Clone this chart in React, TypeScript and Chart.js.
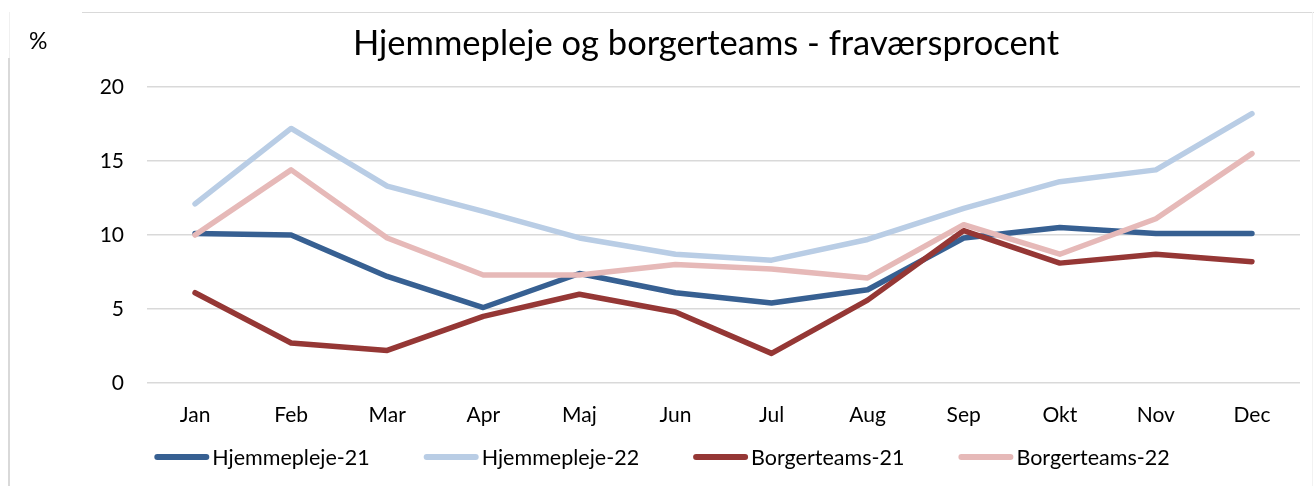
import React, { useEffect, useRef } from "react";
import { Chart, registerables } from "chart.js";

Chart.register(...registerables);

const categories = ["Jan", "Feb", "Mar", "Apr", "Maj", "Jun", "Jul", "Aug", "Sep", "Okt", "Nov", "Dec"];
const hjemmepleje21 = [10.1, 10.0, 7.2, 5.1, 7.4, 6.1, 5.4, 6.3, 9.8, 10.5, 10.1, 10.1];
const hjemmepleje22 = [12.1, 17.2, 13.3, 11.6, 9.8, 8.7, 8.3, 9.7, 11.8, 13.6, 14.4, 18.2];
const borgerteams21 = [6.1, 2.7, 2.2, 4.5, 6.0, 4.8, 2.0, 5.6, 10.3, 8.1, 8.7, 8.2];
const borgerteams22 = [10.0, 14.4, 9.8, 7.3, 7.3, 8.0, 7.7, 7.1, 10.7, 8.7, 11.1, 15.5];
const seriesNames = ["Hjemmepleje-21", "Hjemmepleje-22", "Borgerteams-21", "Borgerteams-22"];
const seriesColors = ["#376092", "#B9CDE5", "#953735", "#E6B9B8"];
const yTicks = [0, 5, 10, 15, 20];

const FONT = "Lato, 'Liberation Sans', sans-serif";

// legend drawn on the canvas from the chart's own datasets
const bottomLegend = {
  id: "bottomLegend",
  afterDraw(chart: any) {
    const ctx = chart.ctx as CanvasRenderingContext2D;
    const ds = chart.data.datasets as any[];
    const lineLen = 55;
    const textGap = 3;
    const itemGap = 54;
    const cy = 457;
    ctx.save();
    ctx.font = `21.5px ${FONT}`;
    const widths = ds.map((d) => ctx.measureText(d.label).width);
    const total = widths.reduce((s, w) => s + lineLen + textGap + w, 0) + itemGap * (ds.length - 1);
    let x = 662 - total / 2;
    ds.forEach((d, i) => {
      ctx.beginPath();
      ctx.strokeStyle = d.borderColor;
      ctx.lineWidth = 6;
      ctx.lineCap = "round";
      ctx.moveTo(x + 3, cy);
      ctx.lineTo(x + lineLen - 3, cy);
      ctx.stroke();
      ctx.fillStyle = "#000";
      ctx.textBaseline = "middle";
      ctx.textAlign = "left";
      ctx.fillText(d.label, x + lineLen + textGap, cy + 1);
      x += lineLen + textGap + widths[i] + itemGap;
    });
    ctx.restore();
  },
};

export default function App() {
  const ref = useRef<HTMLCanvasElement | null>(null);

  useEffect(() => {
    document.body.style.margin = "0";
    const values = [hjemmepleje21, hjemmepleje22, borgerteams21, borgerteams22];
    const chart = new Chart(ref.current as HTMLCanvasElement, {
      type: "line",
      data: {
        labels: categories,
        datasets: values.map((v, i) => ({
          label: seriesNames[i],
          data: v,
          borderColor: seriesColors[i],
          backgroundColor: seriesColors[i],
          borderWidth: 5.5,
          borderCapStyle: "round" as const,
          borderJoinStyle: "round" as const,
          pointRadius: 0,
          tension: 0,
          fill: false,
          order: 4 - i,
        })),
      },
      options: {
        animation: false,
        responsive: false,
        maintainAspectRatio: false,
        layout: { padding: { left: 0, right: 14, top: 87, bottom: 53 } },
        plugins: {
          title: { display: false },
          tooltip: { enabled: false },
          legend: { display: false },
        },
        scales: {
          x: {
            offset: true,
            afterFit: (scale: any) => {
              scale.height = 50;
            },
            grid: { display: false, drawTicks: false },
            border: { display: false },
            ticks: { color: "#000", font: { family: FONT, size: 21 }, padding: 20, maxRotation: 0 },
          },
          y: {
            min: 0,
            max: 20,
            afterFit: (scale: any) => {
              scale.width = 147;
            },
            afterBuildTicks: (scale: any) => {
              scale.ticks = yTicks.map((v) => ({ value: v }));
            },
            grid: { color: "#D9D9D9", lineWidth: 1.5, drawTicks: false },
            border: { display: false },
            ticks: { color: "#000", font: { family: FONT, size: 21 }, padding: 23 },
          },
        },
      },
      plugins: [bottomLegend],
    });
    return () => chart.destroy();
  }, []);

  return (
    <div style={{ position: "fixed", left: 0, top: 0, width: 1314, height: 486, background: "#fff", overflow: "hidden" }}>
      <div style={{ position: "absolute", left: 82, top: 12, width: 1232, height: 0, borderTop: "1px solid #D9D9D9" }} />
      <div style={{ position: "absolute", left: 9, top: 12, width: 0, height: 46, borderLeft: "1px solid #F0F0F0" }} />
      <div style={{ position: "absolute", left: 8, top: 58, width: 0, height: 428, borderLeft: "2px solid #D9D9D9" }} />
      <div style={{ position: "absolute", left: 1312, top: 12, width: 0, height: 474, borderLeft: "1px solid #F2F2F2" }} />
      <canvas ref={ref} width={1314} height={486} style={{ position: "absolute", left: 0, top: 0 }} />
      <div style={{ position: "absolute", left: 706, top: 22, transform: "translateX(-50%)", whiteSpace: "nowrap", fontFamily: FONT, fontSize: 34.5, lineHeight: "40px", color: "#000" }}>
        Hjemmepleje og borgerteams - fraværsprocent
      </div>
      <div style={{ position: "absolute", left: 29, top: 27, fontFamily: FONT, fontSize: 23, lineHeight: "26px", color: "#000" }}>%</div>
    </div>
  );
}
